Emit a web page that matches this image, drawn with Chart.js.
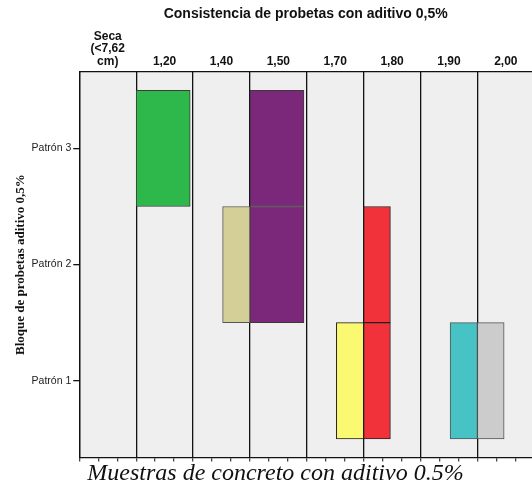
<!DOCTYPE html>
<html>
<head>
<meta charset="utf-8">
<script src="https://cdn.jsdelivr.net/npm/chart.js@4.4.0/dist/chart.umd.min.js"></script>
<style>
    html, body { margin: 0; padding: 0; background: #fff; }
    #contenedor { width: 532px; height: 485px; }
</style>
</head>
<body>
<div id="contenedor"><canvas id="grafico"></canvas></div>
<script>
// ---------- DATOS ----------
const columnas = [['Seca', '(<7,62', 'cm)'], '1,20', '1,40', '1,50', '1,70', '1,80', '1,90', '2,00'];
const patrones = ['Patrón 1', 'Patrón 2', 'Patrón 3'];

// [patrón, inicio, fin] sobre el eje de columnas
const verde = [[3, 1.00, 1.95]];
const beige = [[2, 2.52, 3.00]];
const morado = [[3, 3.00, 3.95], [2, 3.00, 3.95]];
const amarillo = [[1, 4.52, 5.00]];
const rojo = [[2, 5.00, 5.47], [1, 5.00, 5.47]];
const cian = [[1, 6.52, 7.00]];
const gris = [[1, 7.00, 7.47]];

const tituloGrafico = 'Consistencia de probetas con aditivo 0,5%';
const tituloY = 'Bloque de probetas aditivo 0,5%';
const tituloX = 'Muestras de concreto con aditivo 0.5%';

const xMax = 7.96;

function serie(datos, color, borde) {
    return {
        data: datos.map(d => ({ y: d[0], x: [d[1], d[2]] })),
        backgroundColor: color,
        borderColor: borde,
        borderWidth: 1,
        borderSkipped: false,
        grouped: false,
        barPercentage: 1,
        categoryPercentage: 1
    };
}

// fondo gris de los paneles
const fondoPaneles = {
    id: 'fondoPaneles',
    beforeDraw(chart) {
        const { ctx, chartArea: a } = chart;
        ctx.save();
        ctx.fillStyle = '#efefef';
        ctx.fillRect(a.left, a.top, a.right - a.left, a.bottom - a.top);
        ctx.restore();
    }
};

// leyenda inferior (en cursiva, como en el original)
const pieDeFigura = {
    id: 'pieDeFigura',
    afterDraw(chart) {
        const { ctx, chartArea: a } = chart;
        ctx.save();
        ctx.font = 'italic 24px "Liberation Serif", "Times New Roman", serif';
        ctx.fillStyle = '#111';
        ctx.textBaseline = 'alphabetic';
        ctx.textAlign = 'left';
        ctx.fillText(tituloX, a.left + 8, a.bottom + 22.5);
        ctx.restore();
    }
};

const esEntero = v => Math.abs(v - Math.round(v)) < 1e-6;

new Chart(document.getElementById('grafico').getContext('2d'), {
    type: 'bar',
    data: {
        datasets: [
            serie(verde, '#2eb84c', '#3a3a3a'),
            serie(beige, '#d3cf97', '#555555'),
            serie(morado, '#7b287a', '#3a3a3a'),
            serie(amarillo, '#fbf871', '#222222'),
            serie(rojo, '#f1323b', '#222222'),
            serie(cian, '#47c3c6', '#555555'),
            serie(gris, '#cccccc', '#555555')
        ]
    },
    options: {
        indexAxis: 'y',
        responsive: true,
        maintainAspectRatio: false,
        animation: false,
        layout: { padding: 0 },
        plugins: {
            legend: { display: false },
            tooltip: { enabled: false },
            title: {
                display: true,
                text: tituloGrafico,
                fullSize: false,
                color: '#111',
                font: { family: 'Liberation Sans, Arial, sans-serif', size: 14, weight: 'bold' },
                padding: { top: 6, bottom: 0 }
            }
        },
        scales: {
            x: {
                type: 'linear',
                position: 'bottom',
                min: 0,
                max: xMax,
                afterBuildTicks: s => {
                    const t = [];
                    for (let i = 0; i / 3 <= xMax; i++) t.push({ value: i / 3 });
                    s.ticks = t;
                },
                afterFit: s => { s.height = 27.5; },
                ticks: { display: false },
                grid: {
                    color: c => (c.tick && esEntero(c.tick.value)) ? '#111' : 'rgba(0,0,0,0)',
                    lineWidth: 1.3,
                    tickColor: '#444',
                    tickLength: 4,
                    drawTicks: true
                },
                border: { color: '#111', width: 1.3 }
            },
            x2: {
                type: 'linear',
                position: 'top',
                min: 0,
                max: xMax,
                afterBuildTicks: s => {
                    s.ticks = columnas.map((c, i) => ({ value: i + 0.5 }));
                },
                afterFit: s => { s.height = 48.9; },
                ticks: {
                    callback: (v, i) => columnas[i],
                    color: '#111',
                    font: { family: 'Liberation Sans, Arial, sans-serif', size: 12, weight: 'bold', lineHeight: 1.04 },
                    padding: 4,
                    maxRotation: 0,
                    autoSkip: false
                },
                grid: { drawOnChartArea: false, drawTicks: false },
                border: { color: '#111', width: 1.3 }
            },
            y: {
                type: 'linear',
                min: 0.34,
                max: 3.66,
                offset: false,
                afterBuildTicks: s => {
                    s.ticks = patrones.map((p, i) => ({ value: i + 1 }));
                },
                afterFit: s => { s.width = 79.3; },
                ticks: {
                    callback: v => patrones[Math.round(v) - 1],
                    color: '#222',
                    font: { family: 'Liberation Sans, Arial, sans-serif', size: 10.5 },
                    padding: 2
                },
                grid: {
                    offset: false,
                    drawOnChartArea: false,
                    tickLength: 6,
                    tickColor: '#111',
                    lineWidth: 1.3
                },
                border: { color: '#111', width: 1.3 },
                title: {
                    display: true,
                    text: tituloY,
                    color: '#111',
                    font: { family: 'Liberation Serif, Times New Roman, serif', size: 13, weight: 'bold' },
                    padding: { top: 13, bottom: 0 }
                }
            }
        }
    },
    plugins: [fondoPaneles, pieDeFigura]
});
</script>
</body>
</html>
